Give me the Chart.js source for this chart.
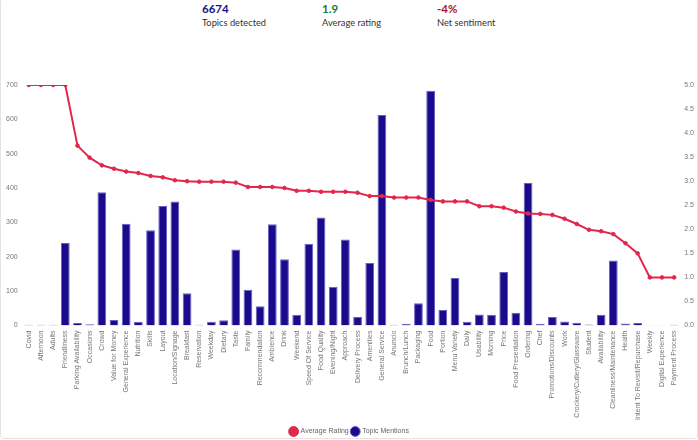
<!DOCTYPE html>
<html lang="en">
<head>
<meta charset="UTF-8">
<title>Topics</title>
<script src="https://cdn.jsdelivr.net/npm/chart.js"></script>
<style>
    body { margin: 0; background: #fff; font-family: Lato, sans-serif; overflow: hidden; }
    .card {
        position: absolute; left: 0; top: -3px;
        width: 696px; height: 440px;
        border: 1px solid #e4e4e4; border-radius: 4px;
    }
    .stat { position: absolute; top: 2px; color: #333; }
    .stat b { display: block; font-size: 11.5px; line-height: 13px; }
    .stat span { display: block; font-size: 9.3px; line-height: 12px; margin-top: 2px; }
    .grafico { position: absolute; left: 0; top: 0; width: 698px; height: 445px; }
</style>
</head>
<body>
<div class="card"></div>
<div class="stat" style="left:202px"><b style="color:#14148a">6674</b><span>Topics detected</span></div>
<div class="stat" style="left:322px"><b style="color:#147a35">1.9</b><span>Average rating</span></div>
<div class="stat" style="left:437px"><b style="color:#b0122c">-4%</b><span>Net sentiment</span></div>
<div class="grafico"><canvas id="topicos"></canvas></div>

<script>
var categorias = ["Covid", "Afternoon", "Adults", "Friendliness", "Parking Availability", "Occasions", "Crowd",
    "Value for Money", "General Experience", "Nutrition", "Skills", "Layout", "Location/Signage", "Breakfast",
    "Reservation", "Weekday", "Dietary", "Taste", "Family", "Recommendation", "Ambience", "Drink", "Weekend",
    "Speed Of Service", "Food Quality", "Evening/Night", "Approach", "Delivery Process", "Amenities",
    "General Service", "Anuncio", "Brunch/Lunch", "Packaging", "Food", "Portion", "Menu Variety", "Daily",
    "Usability", "Morning", "Price", "Food Presentation", "Ordering", "Chef", "Promotions/Discounts", "Work",
    "Crockery/Cutlery/Glassware", "Student", "Availability", "Cleanliness/Maintenance", "Health",
    "Intent To Revisit/Repurchase", "Weekly", "Digital Experience", "Payment Process"];

var mencoes = [2, 2, 2, 240, 7, 4, 388, 16, 296, 11, 277, 348, 361, 94, 2, 11, 15, 221, 104, 56, 295, 193, 31,
    238, 314, 113, 250, 25, 182, 613, 2, 5, 65, 683, 45, 138, 11, 32, 31, 156, 37, 415, 5, 25, 12, 8, 3, 31, 189,
    6, 7, 1, 1, 2];

var notas = [5.0, 5.0, 5.0, 5.0, 3.74, 3.49, 3.33, 3.26, 3.20, 3.17, 3.11, 3.08, 3.02, 3.00, 2.99, 2.99, 2.99, 2.97,
    2.88, 2.88, 2.88, 2.86, 2.80, 2.80, 2.78, 2.78, 2.78, 2.76, 2.69, 2.69, 2.66, 2.66, 2.66, 2.61, 2.58, 2.58,
    2.58, 2.48, 2.48, 2.45, 2.37, 2.33, 2.32, 2.30, 2.22, 2.11, 1.99, 1.96, 1.90, 1.71, 1.50, 1.0, 1.0, 1.0];

var ticksMencoes = [0, 100, 200, 300, 400, 500, 600, 700];
var ticksNotas = [0, 0.5, 1, 1.5, 2, 2.5, 3, 3.5, 4, 4.5, 5];

const ctx = document.getElementById("topicos");

new Chart(ctx, {
    type: "bar",
    data: {
        labels: categorias,
        datasets: [
            {
                type: "line",
                label: "Average Rating",
                data: notas,
                yAxisID: "y1",
                borderColor: "#e3264b",
                backgroundColor: "#e3264b",
                borderWidth: 2,
                pointRadius: 1.8,
                pointBorderWidth: 1,
                pointBackgroundColor: "#e3264b",
                tension: 0
            },
            {
                label: "Topic Mentions",
                data: mencoes,
                yAxisID: "y",
                backgroundColor: "#1a0a8c",
                borderColor: "#6a60c2",
                borderWidth: 1
            }
        ]
    },
    options: {
        responsive: true,
        maintainAspectRatio: false,
        animation: false,
        layout: { padding: { top: 85, left: 1, right: 0, bottom: 0 } },
        plugins: {
            legend: {
                position: "bottom",
                labels: {
                    usePointStyle: true,
                    pointStyle: "circle",
                    color: "#666",
                    padding: 3,
                    font: { size: 7 }
                }
            },
            tooltip: { enabled: false }
        },
        scales: {
            x: {
                grid: { display: false, drawTicks: false },
                border: { display: false },
                ticks: {
                    autoSkip: false,
                    maxRotation: 90,
                    minRotation: 90,
                    padding: 5,
                    color: "#777",
                    font: { size: 7 }
                }
            },
            y: {
                position: "left",
                min: 0,
                max: 700,
                grid: { display: false, drawTicks: false },
                border: { display: false },
                afterBuildTicks: function (eixo) {
                    eixo.ticks = ticksMencoes.map(function (v) { return { value: v }; });
                },
                ticks: { padding: 5, color: "#777", font: { size: 7 } }
            },
            y1: {
                position: "right",
                min: 0,
                max: 5,
                grid: { display: false, drawTicks: false },
                border: { display: false },
                afterBuildTicks: function (eixo) {
                    eixo.ticks = ticksNotas.map(function (v) { return { value: v }; });
                },
                ticks: {
                    padding: 4,
                    color: "#777",
                    font: { size: 7 },
                    callback: function (v) { return Number(v).toFixed(1); }
                }
            }
        }
    }
});
</script>
</body>
</html>
